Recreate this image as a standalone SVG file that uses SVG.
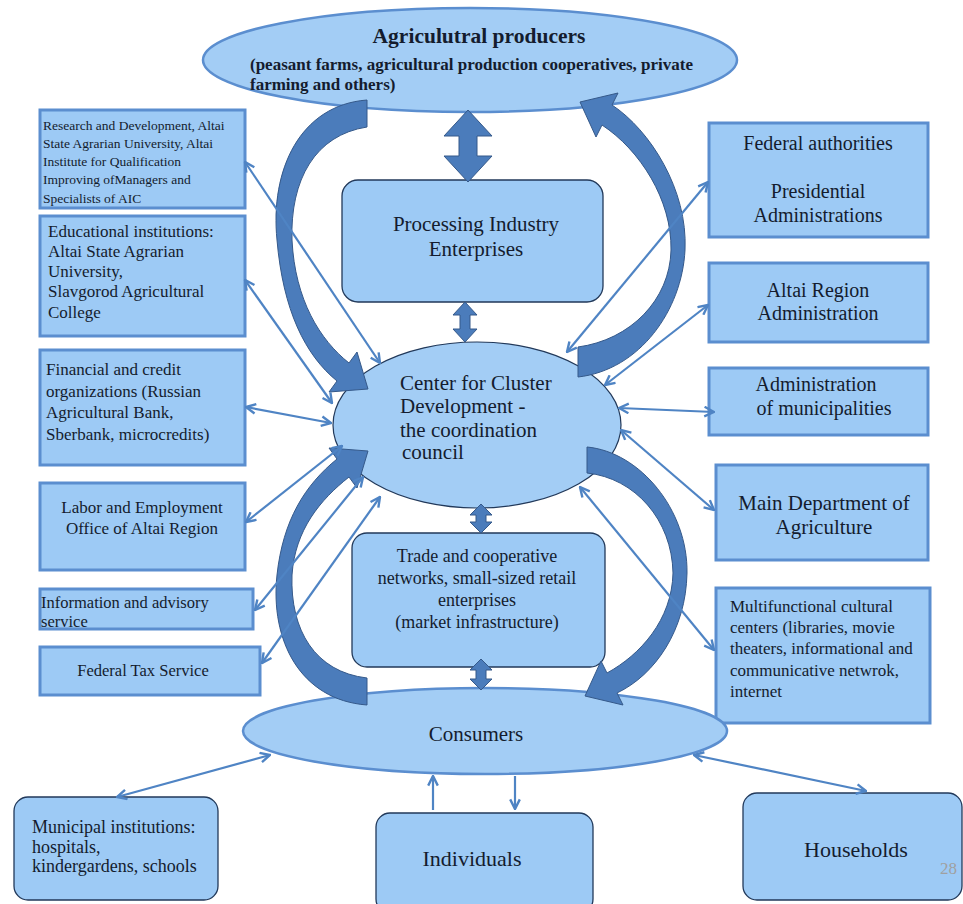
<svg xmlns="http://www.w3.org/2000/svg" width="963" height="904" viewBox="0 0 963 904">
<defs>
<style>
.box{fill:#9dcaf5;stroke:#5b8ecf;stroke-width:3}
.rbox{fill:#9dcaf5;stroke:#22395a;stroke-width:1.3}
.ell{fill:#a3cdf5;stroke:#5b8ecf;stroke-width:2.5}
.cell{fill:#a3cdf5;stroke:#22395a;stroke-width:1.2}
.t{font-family:"Liberation Serif","Times New Roman",serif;fill:#141c2e}
.big{fill:#4b7cbb;stroke:#35598a;stroke-width:1}
.thin{fill:none;stroke:#4f84c4;stroke-width:2.2;marker-start:url(#ah);marker-end:url(#ah)}
.one{fill:none;stroke:#4f84c4;stroke-width:2.2;marker-end:url(#ah)}
</style>
<marker id="ah" viewBox="0 0 10 10" refX="9" refY="5" markerWidth="12" markerHeight="12" markerUnits="userSpaceOnUse" orient="auto-start-reverse">
<path d="M1,1 L9,5 L1,9" fill="none" stroke="#4f84c4" stroke-width="2"/>
</marker>
</defs>
<rect width="963" height="904" fill="#ffffff"/>

<g id="producers">
<ellipse class="ell" cx="470" cy="60" rx="267" ry="52"/>
<text class="t" x="479" y="43" font-size="21.5" font-weight="bold" text-anchor="middle">Agriculutral producers</text>
<text class="t" x="250" y="70" font-size="17" font-weight="bold">(peasant farms, agricultural production cooperatives, private</text>
<text class="t" x="250" y="90" font-size="17" font-weight="bold">farming and others)</text>
</g>

<g id="research">
<rect class="box" x="40" y="110" width="205" height="98"/>
<text class="t" font-size="13.5"><tspan x="43" y="130">Research and Development, Altai</tspan><tspan x="43" y="148">State Agrarian University, Altai</tspan><tspan x="43" y="166">Institute for Qualification</tspan><tspan x="43" y="184">Improving ofManagers and</tspan><tspan x="43" y="203">Specialists of AIC</tspan></text>
</g>

<g id="educational">
<rect class="box" x="40" y="216" width="205" height="120"/>
<text class="t" font-size="17"><tspan x="48" y="237">Educational institutions:</tspan><tspan x="48" y="257">Altai State Agrarian</tspan><tspan x="48" y="277">University,</tspan><tspan x="48" y="297">Slavgorod Agricultural</tspan><tspan x="48" y="318">College</tspan></text>
</g>

<g id="financial">
<rect class="box" x="40" y="350" width="205" height="115"/>
<text class="t" font-size="17"><tspan x="46" y="375">Financial and credit</tspan><tspan x="46" y="397">organizations (Russian</tspan><tspan x="46" y="418">Agricultural Bank,</tspan><tspan x="46" y="440">Sberbank, microcredits)</tspan></text>
</g>

<g id="labor">
<rect class="box" x="40" y="483" width="205" height="87"/>
<text class="t" font-size="17" text-anchor="middle"><tspan x="142" y="513">Labor and Employment</tspan><tspan x="142" y="534">Office of Altai Region</tspan></text>
</g>

<g id="information">
<rect class="box" x="40" y="589" width="213" height="40"/>
<text class="t" font-size="16.5"><tspan x="41" y="608">Information and advisory</tspan><tspan x="41" y="627">service</tspan></text>
</g>

<g id="tax">
<rect class="box" x="40" y="647" width="220" height="48"/>
<text class="t" x="143" y="676" font-size="16.5" text-anchor="middle">Federal Tax Service</text>
</g>

<g id="federal">
<rect class="box" x="709" y="123" width="219" height="114"/>
<text class="t" font-size="20" text-anchor="middle"><tspan x="818" y="150">Federal authorities</tspan><tspan x="818" y="198">Presidential</tspan><tspan x="818" y="222">Administrations</tspan></text>
</g>

<g id="altai">
<rect class="box" x="709" y="263" width="219" height="79"/>
<text class="t" font-size="20" text-anchor="middle"><tspan x="818" y="297">Altai Region</tspan><tspan x="818" y="320">Administration</tspan></text>
</g>

<g id="municipalities">
<rect class="box" x="709" y="368" width="219" height="67"/>
<text class="t" font-size="20" text-anchor="middle"><tspan x="816" y="391">Administration</tspan><tspan x="824" y="415">of municipalities</tspan></text>
</g>

<g id="agriculture">
<rect class="box" x="716" y="465" width="212" height="95"/>
<text class="t" font-size="21" text-anchor="middle"><tspan x="824" y="510">Main Department of</tspan><tspan x="824" y="534">Agriculture</tspan></text>
</g>

<g id="cultural">
<rect class="box" x="716" y="588" width="214" height="135"/>
<text class="t" font-size="17"><tspan x="730" y="612">Multifunctional cultural</tspan><tspan x="730" y="633">centers (libraries, movie</tspan><tspan x="730" y="654">theaters, informational and</tspan><tspan x="730" y="676">communicative netwrok,</tspan><tspan x="730" y="697">internet</tspan></text>
</g>

<g id="processing">
<rect class="rbox" x="342" y="180" width="261" height="122" rx="16"/>
<text class="t" font-size="21" text-anchor="middle"><tspan x="476" y="231">Processing Industry</tspan><tspan x="476" y="256">Enterprises</tspan></text>
</g>

<g id="center">
<ellipse class="cell" cx="477" cy="425" rx="144" ry="83"/>
<text class="t" font-size="21"><tspan x="400" y="390">Center for Cluster</tspan><tspan x="400" y="413">Development -</tspan><tspan x="400" y="437">the coordination</tspan><tspan x="402" y="459">council</tspan></text>
</g>

<g id="trade">
<rect class="rbox" x="352" y="533" width="253" height="134" rx="15"/>
<text class="t" font-size="18" text-anchor="middle"><tspan x="477" y="562">Trade and cooperative</tspan><tspan x="477" y="584">networks, small-sized retail</tspan><tspan x="477" y="606">enterprises</tspan><tspan x="477" y="628">(market infrastructure)</tspan></text>
</g>

<g id="consumers">
<ellipse class="ell" cx="485" cy="731" rx="242" ry="43"/>
<text class="t" x="476" y="741" font-size="21" text-anchor="middle">Consumers</text>
</g>

<g id="municipal">
<rect class="rbox" x="14" y="797" width="204" height="103" rx="14"/>
<text class="t" font-size="18"><tspan x="32" y="833">Municipal institutions:</tspan><tspan x="32" y="853">hospitals,</tspan><tspan x="32" y="872">kindergardens, schools</tspan></text>
</g>

<g id="individuals">
<rect class="rbox" x="376" y="813" width="217" height="100" rx="14"/>
<text class="t" x="472" y="866" font-size="22" text-anchor="middle">Individuals</text>
</g>

<g id="households">
<rect class="rbox" x="743" y="793" width="219" height="107" rx="14"/>
<text class="t" x="856" y="857" font-size="22" text-anchor="middle">Households</text>
</g>

<text x="940" y="874" font-family="Liberation Serif, serif" font-size="17" fill="#a0a0a0">28</text>

<g id="connectors">
<path class="big" d="M468,110 L492,136 L477,136 L477,156 L492,156 L468,182 L444,156 L459,156 L459,136 L444,136 Z"/>
<path class="big" d="M465,302 L477,315 L470,315 L470,329 L477,329 L465,342 L453,329 L460,329 L460,315 L453,315 Z"/>
<path class="big" d="M481,504 L492,515 L486,515 L486,522 L492,522 L481,533 L470,522 L476,522 L476,515 L470,515 Z"/>
<path class="big" d="M481,659 L492,670 L486,670 L486,679 L492,679 L481,690 L470,679 L476,679 L476,670 L470,670 Z"/>

<path class="big" d="M367,100 C300,105 270,170 277,240 C283,310 305,355 337,381 L329,392 L368,389 L357,352 L349,363 C320,340 295,300 292,240 C290,180 315,135 367,127 Z"/>
<path class="big" d="M367,705 C300,700 270,640 277,575 C283,520 305,485 337,459 L329,448 L368,451 L357,488 L349,477 C320,500 295,530 292,575 C290,630 315,672 367,678 Z"/>
<path class="big" d="M612,105 C650,130 688,190 685,250 C682,310 640,370 578,377 L578,347 C630,340 670,300 671,250 C672,200 640,150 602,125 L596,137 L580,102 L618,93 Z"/>
<path class="big" d="M587,447 C640,452 688,510 687,573 C686,630 655,675 617,693 L623,705 L585,696 L601,661 L607,673 C640,655 672,620 673,573 C672,520 635,478 587,473 Z"/>

<line class="thin" x1="245" y1="162" x2="380" y2="363"/>
<line class="thin" x1="245" y1="280" x2="332" y2="403"/>
<line class="thin" x1="246" y1="407" x2="331" y2="423"/>
<line class="thin" x1="246" y1="522" x2="342" y2="446"/>
<line class="thin" x1="255" y1="610" x2="363" y2="477"/>
<line class="thin" x1="262" y1="663" x2="380" y2="497"/>

<line class="thin" x1="708" y1="182" x2="567" y2="352"/>
<line class="thin" x1="708" y1="305" x2="605" y2="385"/>
<line class="thin" x1="619" y1="408" x2="714" y2="412"/>
<line class="thin" x1="621" y1="430" x2="714" y2="510"/>
<line class="thin" x1="714" y1="650" x2="580" y2="487"/>

<line class="thin" x1="117" y1="797" x2="270" y2="755"/>
<line class="thin" x1="694" y1="755" x2="866" y2="791"/>
<line class="one" x1="433" y1="810" x2="433" y2="776"/>
<line class="one" x1="515" y1="776" x2="515" y2="809"/>
</g>
</svg>
